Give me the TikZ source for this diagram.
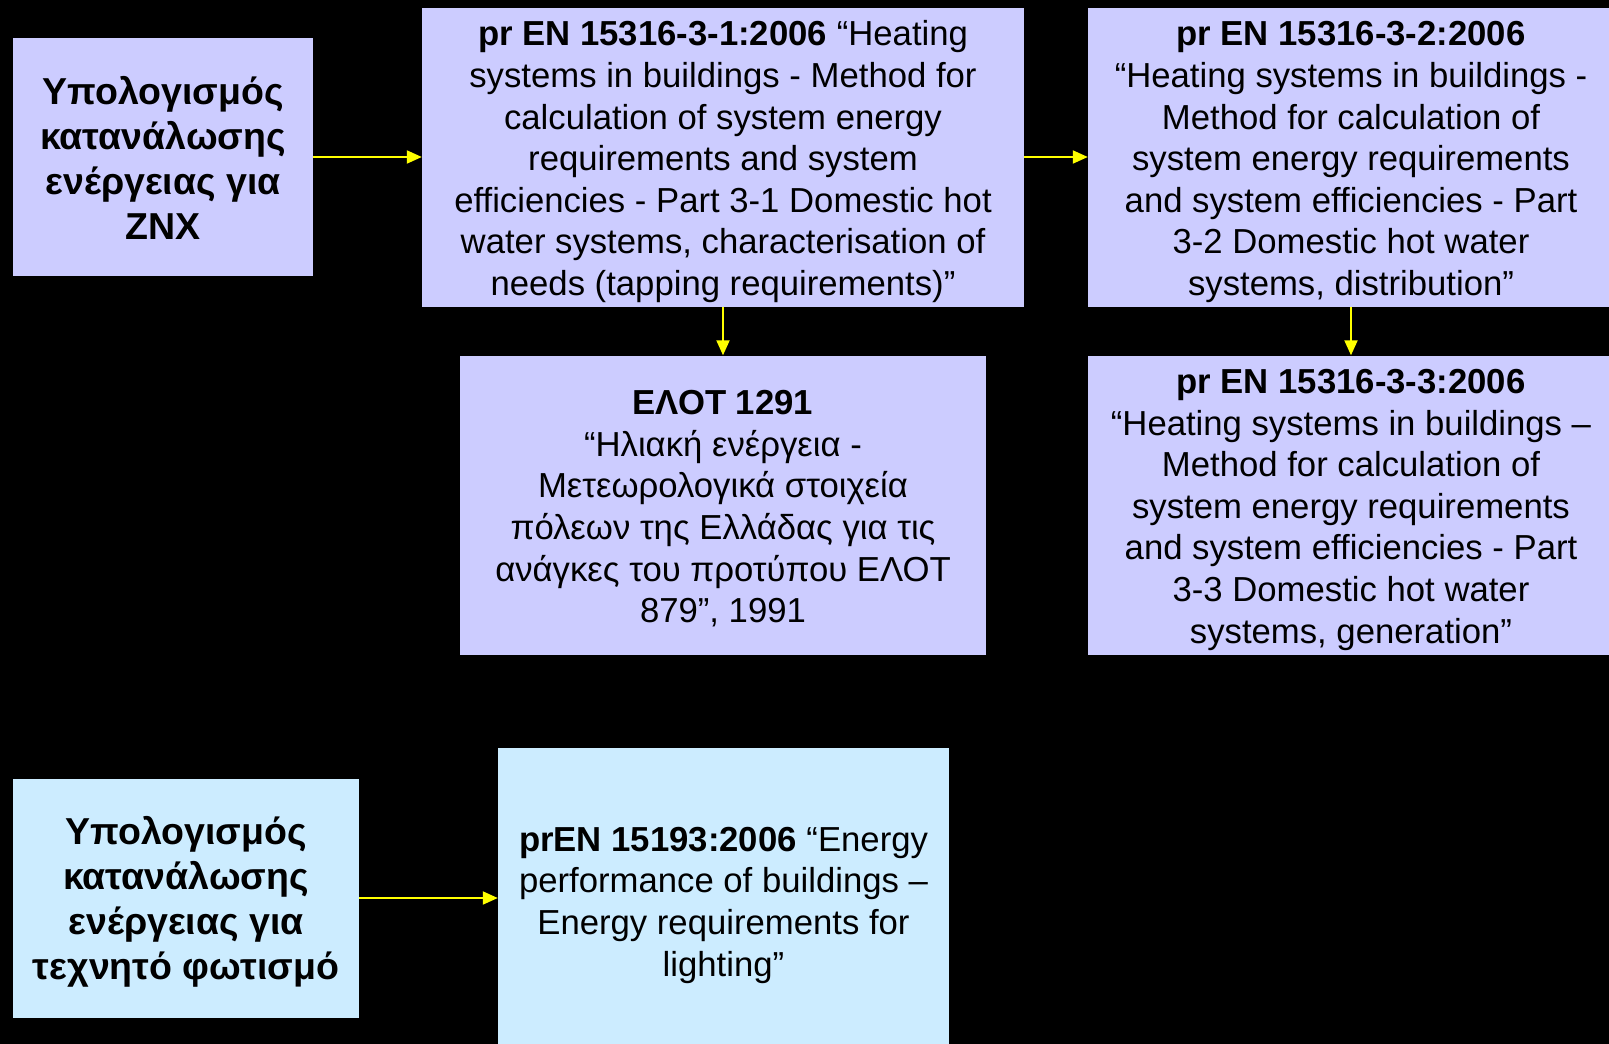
\documentclass[tikz,border=0pt]{standalone}
\usepackage{fontspec}
\setmainfont{Liberation Sans}
\usetikzlibrary{arrows.meta}
\definecolor{lav}{HTML}{CCCCFF}
\definecolor{lblue}{HTML}{CCECFF}
\definecolor{arrowyellow}{HTML}{FFFF00}
\newcommand{\tgap}[1]{\rule{0pt}{\dimexpr 0.74em+#1\relax}}
\tikzset{
  box/.style={fill=lav, inner sep=0pt, align=center, text=black,
    font={\fontsize{34.7}{41.6}\selectfont}},
  bigbox/.style={box, font={\fontsize{37.5}{45}\selectfont\bfseries}},
  conn/.style={draw=arrowyellow, line width=2pt,
    -{Triangle[length=15pt,width=13pt]}, fill=arrowyellow}
}
\begin{document}
\begin{tikzpicture}[x=1pt,y=-1pt]
\fill[black] (0,0) rectangle (1609,1044);
\useasboundingbox (0,0) rectangle (1609,1044);

\node[bigbox, minimum width=300pt, minimum height=238pt] (a) at (163,157)
  {\tgap{2pt}Υπολογισμός\\κατανάλωσης\\ενέργειας για\\ZNX};

\node[box, minimum width=602pt, minimum height=299pt] (b) at (723,157)
  {\tgap{9pt}\textbf{pr EN 15316-3-1:2006} “Heating\\
   systems in buildings - Method for\\
   calculation of system energy\\
   requirements and system\\
   efficiencies - Part 3-1 Domestic hot\\
   water systems, characterisation of\\
   needs (tapping requirements)”};

\node[box, minimum width=526pt, minimum height=299pt] (c) at (1351,157)
  {\tgap{9pt}\textbf{pr EN 15316-3-2:2006}\\
   “Heating systems in buildings -\\
   Method for calculation of\\
   system energy requirements\\
   and system efficiencies - Part\\
   3-2 Domestic hot water\\
   systems, distribution”};

\node[box, minimum width=526pt, minimum height=299pt] (d) at (723,505)
  {\tgap{6pt}\textbf{ΕΛΟΤ 1291}\\
   “Ηλιακή ενέργεια -\\
   Μετεωρολογικά στοιχεία\\
   πόλεων της Ελλάδας για τις\\
   ανάγκες του προτύπου ΕΛΟΤ\\
   879”, 1991};

\node[box, minimum width=526pt, minimum height=299pt] (e) at (1351,505)
  {\tgap{8pt}\textbf{pr EN 15316-3-3:2006}\\
   “Heating systems in buildings –\\
   Method for calculation of\\
   system energy requirements\\
   and system efficiencies - Part\\
   3-3 Domestic hot water\\
   systems, generation”};

\node[bigbox, fill=lblue, minimum width=346pt, minimum height=239pt] (f) at (186,898)
  {\tgap{9pt}Υπολογισμός\\κατανάλωσης\\ενέργειας για\\τεχνητό φωτισμό};

\node[box, fill=lblue, minimum width=451pt, minimum height=300pt] (g) at (723.5,898)
  {\tgap{13pt}\textbf{prEN 15193:2006} “Energy\\
   performance of buildings –\\
   Energy requirements for\\
   lighting”};

\draw[conn] (a.east) -- (b.west);
\draw[conn] (b.east) -- (c.west);
\draw[conn] (b.south) -- (d.north);
\draw[conn] (c.south) -- (e.north);
\draw[conn] (f.east) -- (g.west);
\end{tikzpicture}
\end{document}
